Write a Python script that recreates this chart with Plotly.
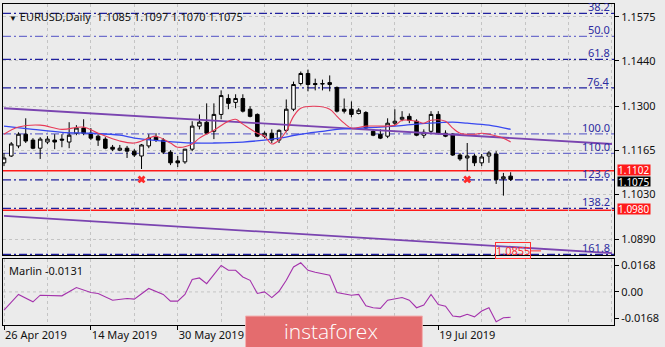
import pandas as pd
import plotly.graph_objects as go

# ---- EURUSD daily bars (oldest first) ----
dates = pd.bdate_range("2019-04-26", periods=71)

opens = [1.1126, 1.1147, 1.1178, 1.1214, 1.1196, 1.1171, 1.1190, 1.1196, 1.1199, 1.1190,
         1.1217, 1.1233, 1.1217, 1.1208, 1.1199, 1.1174, 1.1165, 1.1171, 1.1162, 1.1147,
         1.1178, 1.1205, 1.1196, 1.1159, 1.1132, 1.1129, 1.1168, 1.1239, 1.1251, 1.1223,
         1.1275, 1.1324, 1.1312, 1.1324, 1.1291, 1.1275, 1.1208, 1.1217, 1.1196, 1.1226,
         1.1291, 1.1370, 1.1401, 1.1370, 1.1370, 1.1367, 1.1358, 1.1291, 1.1291, 1.1278,
         1.1281, 1.1223, 1.1214, 1.1208, 1.1248, 1.1260, 1.1269, 1.1254, 1.1211, 1.1223,
         1.1275, 1.1217, 1.1214, 1.1150, 1.1141, 1.1147, 1.1126, 1.1147, 1.1153, 1.1077,
         1.1085]
highs = [1.1156, 1.1190, 1.1220, 1.1263, 1.1202, 1.1205, 1.1208, 1.1214, 1.1214, 1.1251,
         1.1242, 1.1260, 1.1233, 1.1214, 1.1205, 1.1181, 1.1181, 1.1178, 1.1168, 1.1184,
         1.1214, 1.1217, 1.1202, 1.1165, 1.1147, 1.1168, 1.1254, 1.1275, 1.1309, 1.1309,
         1.1349, 1.1337, 1.1337, 1.1337, 1.1300, 1.1278, 1.1223, 1.1229, 1.1229, 1.1321,
         1.1376, 1.1407, 1.1413, 1.1385, 1.1382, 1.1395, 1.1361, 1.1324, 1.1315, 1.1294,
         1.1285, 1.1229, 1.1229, 1.1263, 1.1291, 1.1285, 1.1278, 1.1260, 1.1229, 1.1285,
         1.1285, 1.1226, 1.1217, 1.1156, 1.1187, 1.1153, 1.1153, 1.1162, 1.1162, 1.1095,
         1.1097]
lows = [1.1116, 1.1144, 1.1171, 1.1187, 1.1168, 1.1138, 1.1184, 1.1168, 1.1174, 1.1171,
        1.1211, 1.1211, 1.1196, 1.1178, 1.1168, 1.1162, 1.1162, 1.1141, 1.1144, 1.1107,
        1.1171, 1.1190, 1.1153, 1.1119, 1.1113, 1.1123, 1.1162, 1.1229, 1.1214, 1.1199,
        1.1260, 1.1291, 1.1294, 1.1281, 1.1266, 1.1205, 1.1202, 1.1187, 1.1187, 1.1220,
        1.1285, 1.1364, 1.1346, 1.1349, 1.1349, 1.1346, 1.1281, 1.1278, 1.1266, 1.1275,
        1.1229, 1.1208, 1.1199, 1.1202, 1.1239, 1.1254, 1.1248, 1.1208, 1.1202, 1.1217,
        1.1214, 1.1205, 1.1147, 1.1132, 1.1101, 1.1116, 1.1116, 1.1126, 1.1061, 1.1025,
        1.1070]
closes = [1.1141, 1.1184, 1.1214, 1.1193, 1.1171, 1.1199, 1.1199, 1.1190, 1.1196, 1.1211,
          1.1233, 1.1217, 1.1202, 1.1196, 1.1171, 1.1168, 1.1171, 1.1162, 1.1150, 1.1181,
          1.1202, 1.1196, 1.1159, 1.1126, 1.1126, 1.1168, 1.1239, 1.1251, 1.1217, 1.1275,
          1.1333, 1.1309, 1.1324, 1.1285, 1.1269, 1.1208, 1.1217, 1.1196, 1.1226, 1.1291,
          1.1367, 1.1401, 1.1367, 1.1367, 1.1369, 1.1373, 1.1285, 1.1285, 1.1275, 1.1288,
          1.1233, 1.1211, 1.1202, 1.1248, 1.1254, 1.1266, 1.1257, 1.1211, 1.1220, 1.1275,
          1.1217, 1.1208, 1.1150, 1.1138, 1.1147, 1.1126, 1.1144, 1.1156, 1.1074, 1.1083,
          1.1075]
bar_idx = list(range(len(opens)))

# ---- moving averages (bar index, price) ----
red_ma_idx = [0, 2, 5, 8, 11, 13, 16, 18, 20, 21, 23, 24, 26, 27, 29, 31, 32, 33, 35, 36,
              37, 38, 39, 40, 41, 43, 45, 46, 47, 48, 50, 54, 55, 57, 58, 59, 61, 62, 63, 65,
              66, 67, 69, 70]
red_ma_val = [1.1214, 1.1236, 1.1242, 1.1229, 1.1236, 1.1217, 1.1193, 1.1187, 1.1202, 1.1208,
              1.1187, 1.1174, 1.1184, 1.1202, 1.1226, 1.1254, 1.1260, 1.1245, 1.1217, 1.1208,
              1.1184, 1.1196, 1.1223, 1.1269, 1.1294, 1.1300, 1.1291, 1.1269, 1.1248, 1.1233,
              1.1239, 1.1242, 1.1257, 1.1254, 1.1248, 1.1257, 1.1254, 1.1233, 1.1217, 1.1214,
              1.1217, 1.1214, 1.1202, 1.1190]
blue_ma_idx = [0, 4, 8, 12, 16, 18, 22, 26, 29, 33, 36, 38, 41, 44, 46, 49, 52, 54, 57, 62,
               64, 67, 70]
blue_ma_val = [1.1239, 1.1229, 1.1220, 1.1217, 1.1211, 1.1202, 1.1193, 1.1187, 1.1187, 1.1190,
               1.1196, 1.1202, 1.1214, 1.1223, 1.1229, 1.1233, 1.1236, 1.1239, 1.1245, 1.1251,
               1.1248, 1.1242, 1.1229]

# ---- descending channel (bar index, price) ----
channel_idx = [0, 84]
channel_upper = [1.1294, 1.1184]
channel_lower = [1.0963, 1.0848]

# ---- Fibonacci grid ----
fib_start, fib_end = 1.1815, 1.1215
fib_levels = [38.2, 50.0, 61.8, 76.4, 100.0, 110.0, 123.6, 138.2, 161.8]
fib_light = [50.0, 100.0, 110.0]

# ---- horizontal targets and signals ----
target_levels = [1.1102, 1.0980]
channel_target = 1.0855
signal_idx = [19, 64]
signal_price = [1.1075, 1.1075]

# ---- Marlin oscillator ----
marlin_idx = [0, 2, 4, 5, 8, 10, 12, 13, 15, 17, 18, 20, 22, 23, 24, 25, 26, 27, 28, 30,
              31, 32, 33, 34, 35, 36, 37, 38, 39, 40, 41, 42, 43, 44, 45, 46, 47, 48, 49, 50,
              51, 52, 53, 54, 55, 56, 57, 58, 59, 60, 61, 62, 63, 64, 65, 66, 67, 68, 69, 70]
marlin_val = [-0.0116, -0.0016, -0.0063, -0.0021, -0.0025, 0.0028, -0.0004, -0.0010, -0.0053, -0.0042,
              -0.0046, 0.0022, -0.0016, -0.0059, -0.0059, -0.0016, 0.0079, 0.0089, 0.0053, 0.0169,
              0.0138, 0.0138, 0.0095, 0.0074, -0.0010, 0.0000, -0.0036, 0.0004, 0.0074, 0.0159,
              0.0186, 0.0138, 0.0125, 0.0115, 0.0106, -0.0004, -0.0011, -0.0021, -0.0016, -0.0089,
              -0.0101, -0.0105, -0.0053, -0.0046, -0.0036, -0.0053, -0.0101, -0.0084, -0.0016, -0.0080,
              -0.0091, -0.0154, -0.0159, -0.0143, -0.0159, -0.0122, -0.0101, -0.0190, -0.0165, -0.0162]
marlin_label = "Marlin -0.0131"

# ---- axis ticks ----
price_ticks = [1.1575, 1.1440, 1.1300, 1.1165, 1.1030, 1.0890]
marlin_ticks = [0.0168, 0.0, -0.0168]
marlin_ticktext = ["0.0168", "0.00", "-0.0168"]
date_tick_idx = [0, 12, 24, 60]
date_tick_text = [f"{dates[i].day} {dates[i]:%b %Y}" for i in date_tick_idx]

FONT = "Noto Sans"
BG = "#ebebeb"
GRID = "#c4c4c4"

fig = go.Figure()

# channel lines
for ys in (channel_upper, channel_lower):
    fig.add_trace(go.Scatter(x=channel_idx, y=ys, mode="lines",
                             line=dict(color="#7a44b0", width=1.8),
                             hoverinfo="skip", xaxis="x", yaxis="y"))

# candles
fig.add_trace(go.Candlestick(
    x=bar_idx, open=opens, high=highs, low=lows, close=closes,
    increasing=dict(line=dict(color="#000000", width=1), fillcolor="#ffffff"),
    decreasing=dict(line=dict(color="#000000", width=1), fillcolor="#000000"),
    whiskerwidth=0, xaxis="x", yaxis="y", name="EURUSD"))

# moving averages
fig.add_trace(go.Scatter(x=blue_ma_idx, y=blue_ma_val, mode="lines", line_shape="spline",
                         line=dict(color="#3848f0", width=1.3), xaxis="x", yaxis="y"))
fig.add_trace(go.Scatter(x=red_ma_idx, y=red_ma_val, mode="lines", line_shape="spline",
                         line=dict(color="#e83a58", width=1.1), xaxis="x", yaxis="y"))

# signal crosses
fig.add_trace(go.Scatter(x=signal_idx, y=signal_price, mode="markers",
                         marker=dict(symbol="x", size=7, color="#ff2a2a",
                                     line=dict(width=0)),
                         xaxis="x", yaxis="y"))

# Marlin oscillator
fig.add_trace(go.Scatter(x=marlin_idx, y=marlin_val, mode="lines",
                         line=dict(color="#a432ac", width=1.1), xaxis="x2", yaxis="y2"))

shapes = []
# Fibonacci levels
for lvl in fib_levels:
    price = fib_start + (fib_end - fib_start) * lvl / 100.0
    color = "#6f6fcc" if lvl in fib_light else "#20209e"
    shapes.append(dict(type="line", xref="x domain", yref="y", x0=0, x1=1, y0=price, y1=price,
                       line=dict(color=color, width=1.3, dash="8px,3px,2px,3px"), layer="below"))
# target levels
for lvl in target_levels:
    shapes.append(dict(type="line", xref="x domain", yref="y", x0=0, x1=1, y0=lvl, y1=lvl,
                       line=dict(color="#ff1a1a", width=1.5), layer="below"))
# Marlin zero line
shapes.append(dict(type="line", xref="x2 domain", yref="y2", x0=0, x1=1, y0=0, y1=0,
                   line=dict(color=GRID, width=1, dash="3px,3px"), layer="below"))
# watermark plate
shapes.append(dict(type="rect", xref="paper", yref="paper", x0=0.397, x1=0.6863,
                   y0=-0.075, y1=0.0279, fillcolor="#e46c6e",
                   line=dict(color="#f3b0b0", width=1), layer="above"))

annotations = []
# header
annotations.append(dict(
    xref="paper", yref="paper", x=0, y=1, xanchor="left", yanchor="top", xshift=4, yshift=-3,
    text=(f"<span style='font-size:8px'>▼</span> EURUSD,Daily  {opens[-1]:.4f} "
          f"{highs[-1]:.4f} {lows[-1]:.4f} {closes[-1]:.4f}"),
    showarrow=False, font=dict(family=FONT, size=11, color="#111111")))
# Fibonacci labels
for lvl in fib_levels:
    price = fib_start + (fib_end - fib_start) * lvl / 100.0
    annotations.append(dict(
        xref="x domain", yref="y", x=1, y=price, xanchor="right", yanchor="bottom",
        xshift=-2, yshift=-3, text=f"{lvl:.1f}", showarrow=False,
        font=dict(family=FONT, size=11, color="#2c2ca0")))
# price tags on the axis
for lvl in target_levels:
    annotations.append(dict(
        xref="paper", yref="y", x=1, y=lvl, xanchor="left", yanchor="middle", xshift=3,
        yshift=1, height=10, text=f"{lvl:.4f}", showarrow=False, bgcolor="#ff1a1a",
        borderpad=0, font=dict(family=FONT, size=10, color="#ffffff")))
annotations.append(dict(
    xref="paper", yref="y", x=1, y=closes[-1], xanchor="left", yanchor="middle", xshift=3,
    yshift=-2, height=9, text=f"{closes[-1]:.4f}", showarrow=False, bgcolor="#000000",
    borderpad=0, font=dict(family=FONT, size=10, color="#ffffff")))
# channel projection tag
annotations.append(dict(
    xref="x", yref="y", x=74.2, y=channel_target, ax=-28, ay=0,
    text=f"{channel_target:.4f}", showarrow=True, arrowhead=0, arrowwidth=1,
    arrowcolor="#ff3030", bordercolor="#ff3030", borderwidth=1, borderpad=0,
    font=dict(family=FONT, size=11, color="#ff3030")))
# oscillator caption
annotations.append(dict(
    xref="paper", yref="y2 domain", x=0, y=1, xanchor="left", yanchor="top", xshift=4,
    yshift=-2, text=marlin_label, showarrow=False,
    font=dict(family=FONT, size=11, color="#111111")))
# watermark
annotations.append(dict(
    xref="paper", yref="paper", x=0.5376, y=-0.018, xanchor="center", yanchor="middle",
    text="instaforex", showarrow=False,
    font=dict(family="Open Sans", size=21, color="#ffffff", weight=300)))

x_range = [-0.14, 84.28]
axis_common = dict(showline=True, linecolor="#000000", linewidth=1, mirror=True,
                   zeroline=False)

fig.update_layout(
    width=665, height=347,
    margin=dict(l=2, r=51, t=2, b=22),
    paper_bgcolor=BG, plot_bgcolor=BG,
    showlegend=False,
    shapes=shapes, annotations=annotations,
    xaxis=dict(domain=[0, 1], anchor="y", range=x_range, matches="x2",
               showticklabels=False, ticks="", showgrid=False,
               minor=dict(tick0=0, dtick=6, showgrid=True, gridcolor=GRID,
                          griddash="3px,3px", gridwidth=1, ticks=""),
               rangeslider=dict(visible=False), **axis_common),
    yaxis=dict(domain=[0.2167, 1], anchor="x", side="right", range=[1.0841, 1.16148],
               tickvals=price_ticks, ticktext=[f"{v:.4f}" for v in price_ticks],
               ticks="outside", ticklen=4, tickcolor="#000000",
               showgrid=True, gridcolor=GRID, griddash="3px,3px", gridwidth=1,
               tickfont=dict(family=FONT, size=11, color="#111111"), **axis_common),
    xaxis2=dict(domain=[0, 1], anchor="y2", range=x_range,
                tickvals=date_tick_idx, ticktext=date_tick_text,
                ticks="outside", ticklen=4, tickcolor="#000000",
                ticklabelposition="outside right", showgrid=False,
                minor=dict(tick0=0, dtick=6, showgrid=True, gridcolor=GRID,
                           griddash="3px,3px", gridwidth=1, ticks=""),
                tickfont=dict(family=FONT, size=11, color="#111111"), **axis_common),
    yaxis2=dict(domain=[0, 0.2043], anchor="x2", side="right", range=[-0.02111, 0.02073],
                tickvals=marlin_ticks, ticktext=marlin_ticktext,
                ticks="outside", ticklen=4, tickcolor="#000000", showgrid=False,
                tickfont=dict(family=FONT, size=11, color="#111111"), **axis_common),
)

fig.write_html("out.html")
